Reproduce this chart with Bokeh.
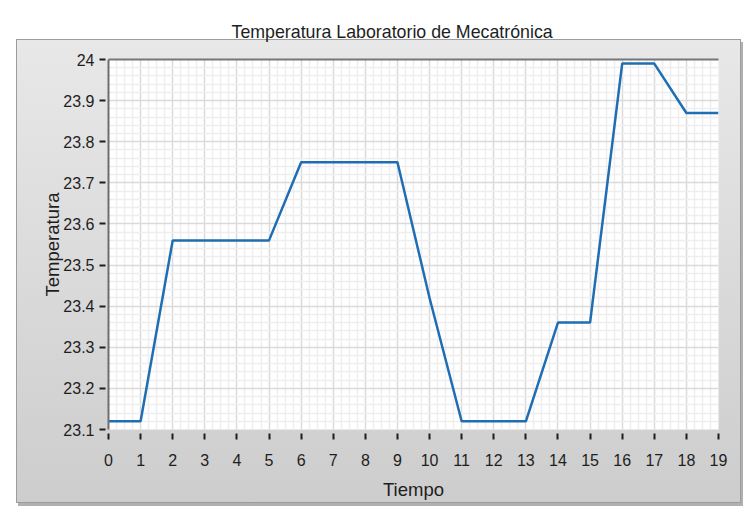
from bokeh.plotting import figure
from bokeh.models import Range1d, FixedTicker, LinearAxis
from bokeh.embed import file_html
from bokeh.resources import INLINE

# ---- data ----
tiempo = list(range(20))
temperatura = [23.12, 23.12, 23.56, 23.56, 23.56, 23.56, 23.75, 23.75, 23.75, 23.75,
               23.42, 23.12, 23.12, 23.12, 23.36, 23.36, 23.99, 23.99, 23.87, 23.87]
x_ticks = list(range(20))
y_ticks = [23.1, 23.2, 23.3, 23.4, 23.5, 23.6, 23.7, 23.8, 23.9, 24.0]
y_tick_labels = ["23.1", "23.2", "23.3", "23.4", "23.5", "23.6", "23.7", "23.8", "23.9", "24"]
title_text = "Temperatura Laboratorio de Mecatrónica"
x_label = "Tiempo"
y_label = "Temperatura"

# ---- layout (figure pixel coordinates, measured from top-left) ----
W, H = 744, 518
FR_L, FR_R, FR_T, FR_B = 108, 718, 59, 429
FONT = "Liberation Sans"

# grey LabVIEW-like panel painted behind the (transparent) figure canvas
panel_css = ("linear-gradient(#e8e8e8, #cdcdcd) 17px 40px / 723px 462px no-repeat, "
             "linear-gradient(#9c9c9c, #9c9c9c) 16px 39px / 725px 464px no-repeat, "
             "linear-gradient(#b0b0b0, #b0b0b0) 18px 42px / 725px 464px no-repeat, "
             "#ffffff")

p = figure(width=W, height=H, output_backend="svg", toolbar_location=None,
           x_range=Range1d(0, 19), y_range=Range1d(23.1, 24.0),
           min_border_left=FR_L, min_border_right=W - FR_R,
           min_border_top=FR_T, min_border_bottom=H - FR_B,
           background_fill_color="white", border_fill_color=None,
           outline_line_color=None, styles={"background": panel_css})

p.title.text = title_text
p.title.align = "left"
p.title.offset = 123
p.title.standoff = 35
p.title.text_font = FONT
p.title.text_font_size = "17.8px"
p.title.text_font_style = "normal"
p.title.text_color = "#1e1e1e"

# minor tick positions (subdivisions of the major intervals)
x_minor = [i + k / 4 for i in range(19) for k in range(1, 4)]
y_minor = [round(23.1 + i * 0.1 + k * 0.02, 3) for i in range(9) for k in range(1, 5)]

xa = p.xaxis[0]
xa.ticker = FixedTicker(ticks=x_ticks, minor_ticks=x_minor)
ya = p.yaxis[0]
ya.ticker = FixedTicker(ticks=y_ticks, minor_ticks=y_minor)
ya.major_label_overrides = {t: l for t, l in zip(y_ticks, y_tick_labels)}

for ax in (xa, ya):
    ax.major_tick_line_color = "#1e1e1e"
    ax.major_tick_line_width = 2
    ax.minor_tick_line_color = None
    ax.major_label_text_font = FONT
    ax.major_label_text_color = "#1e1e1e"
    ax.major_label_text_font_size = "16px"
    ax.axis_label_text_font = FONT
    ax.axis_label_text_font_style = "normal"
    ax.axis_label_text_color = "#1e1e1e"
    ax.axis_label_text_font_size = "18.5px"

xa.axis_label = x_label
xa.axis_line_color = None
xa.major_tick_in = -4
xa.major_tick_out = 10
xa.major_label_standoff = 14
xa.axis_label_standoff = 10

ya.axis_label = y_label
ya.axis_line_color = "#6e6e6e"
ya.axis_line_width = 2
ya.major_tick_in = -3
ya.major_tick_out = 9
ya.major_label_standoff = 5
ya.axis_label_standoff = -3

top_axis = LinearAxis(ticker=FixedTicker(ticks=[]), axis_line_color="#777777",
                      axis_line_width=2, major_tick_line_color=None,
                      minor_tick_line_color=None, major_tick_out=0,
                      major_label_standoff=0)
p.add_layout(top_axis, "above")

for g in (p.xgrid[0], p.ygrid[0]):
    g.grid_line_color = "#dadada"
    g.grid_line_width = 1.5
    g.minor_grid_line_color = "#eeeeee"
    g.minor_grid_line_width = 1.5

p.line(tiempo, temperatura, line_color="#1f6db3", line_width=2.5)

open("out.html", "w").write(file_html(p, INLINE))
